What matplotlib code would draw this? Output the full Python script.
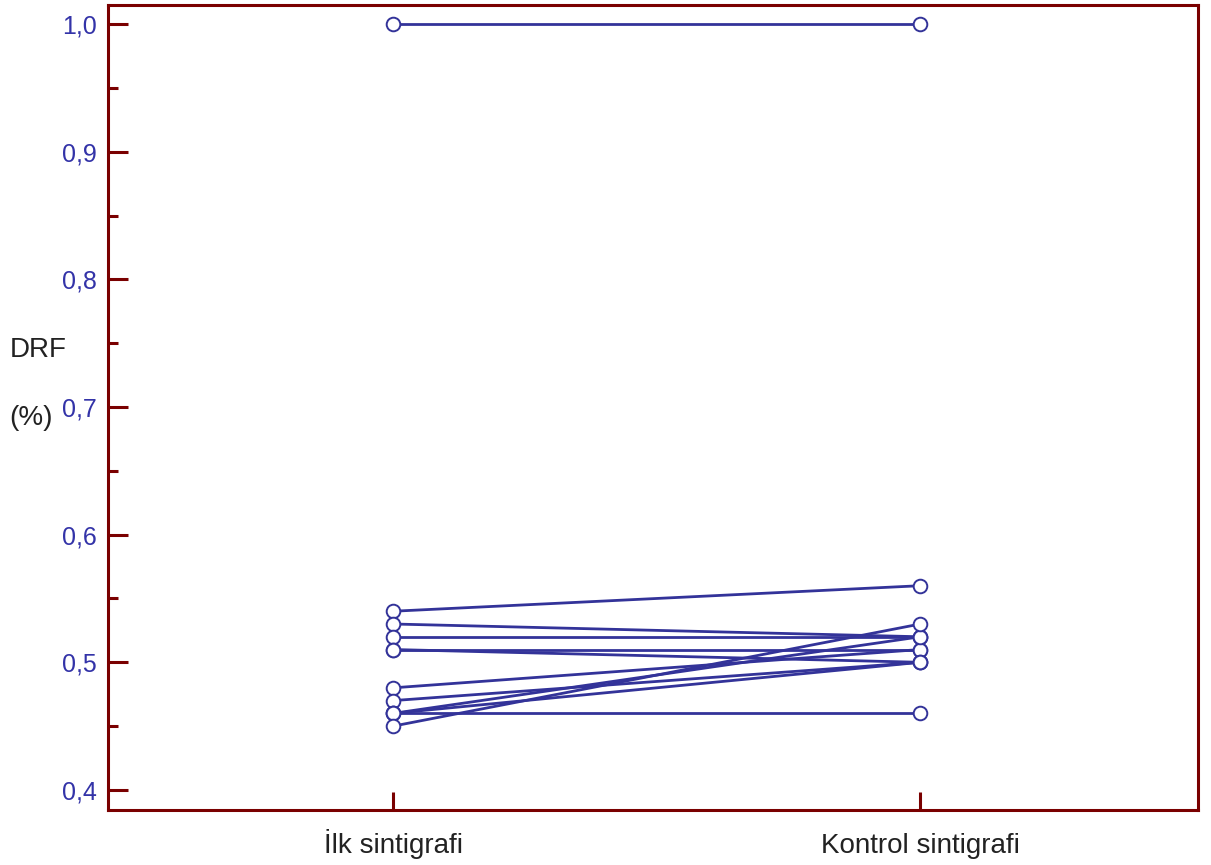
import matplotlib
matplotlib.use("Agg")
import matplotlib.pyplot as plt
from matplotlib.ticker import MultipleLocator, FixedLocator

# Paired DRF values per patient: first scan vs. follow-up scan
categories = ["İlk sintigrafi", "Kontrol sintigrafi"]
ilk = [1.00, 0.54, 0.53, 0.52, 0.51, 0.51, 0.48, 0.47, 0.46, 0.46, 0.46, 0.45]
kontrol = [1.00, 0.56, 0.52, 0.52, 0.51, 0.50, 0.51, 0.50, 0.46, 0.52, 0.50, 0.53]
y_ticks = [0.4, 0.5, 0.6, 0.7, 0.8, 0.9, 1.0]
y_tick_labels = ["0,4", "0,5", "0,6", "0,7", "0,8", "0,9", "1,0"]

plt.rcParams["font.family"] = ["Liberation Sans", "DejaVu Sans"]

line_color = "#333399"
frame_color = "#7a0000"
tick_label_color = "#3333a8"
text_color = "#222222"

fig = plt.figure(figsize=(12.11, 8.65), dpi=100)
ax = fig.add_axes([0.0892, 0.0636, 0.9001, 0.9306])

xpos = [1, 2]
for a, b in zip(ilk, kontrol):
    ax.plot(xpos, [a, b], color=line_color, lw=2.0, marker="o", ms=9.8,
            mfc="white", mec=line_color, mew=1.4, zorder=3, clip_on=False)

ax.set_xlim(0.459, 2.527)
ax.set_ylim(0.3843, 1.0149)

ax.xaxis.set_major_locator(FixedLocator(xpos))
ax.set_xticklabels(categories, fontsize=20, color=text_color, va="baseline")
ax.yaxis.set_major_locator(FixedLocator(y_ticks))
ax.set_yticklabels(y_tick_labels, fontsize=18, color=tick_label_color)
ax.yaxis.set_minor_locator(MultipleLocator(0.05))

ax.tick_params(axis="y", which="major", direction="in", length=14.5, width=2.2,
               color=frame_color, pad=8)
ax.tick_params(axis="y", which="minor", direction="in", length=7, width=2.2,
               color=frame_color)
ax.tick_params(axis="x", which="major", direction="in", length=13, width=2.2,
               color=frame_color, pad=31)

for sp in ax.spines.values():
    sp.set_color(frame_color)
    sp.set_linewidth(2.2)

fig.text(0.008, 0.595, "DRF", fontsize=20, color=text_color, ha="left", va="center")
fig.text(0.008, 0.517, "(%)", fontsize=20, color=text_color, ha="left", va="center")

fig.savefig("out.png", dpi=100)
